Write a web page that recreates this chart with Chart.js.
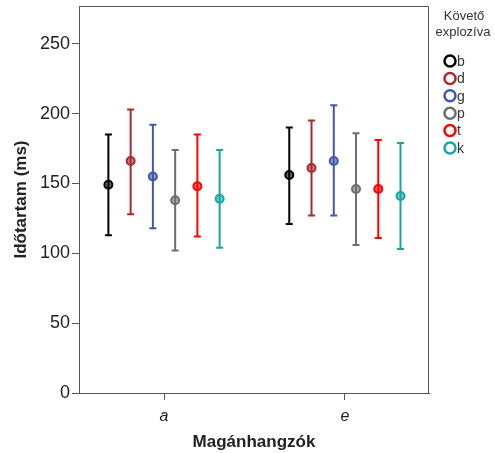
<!DOCTYPE html>
<html>
<head>
<meta charset="utf-8">
<script src="https://cdn.jsdelivr.net/npm/chart.js@4"></script>
<style>
  html, body { margin: 0; padding: 0; background: #fff; }
  #wrap { width: 495px; height: 453px; }
</style>
</head>
<body>
<div id="wrap"><canvas id="errChart" width="495" height="453"></canvas></div>
<script>
const categories = ["a", "e"];
const seriesNames = ["b", "d", "g", "p", "t", "k"];
const seriesColors = ["#000000", "#AA2A2E", "#3E58AC", "#6E6E6E", "#FF0000", "#1AA5A5"];
const yTicks = [0, 50, 100, 150, 200, 250];

// mean, lower and upper end of the error bar, one value per category (a, e)
const meanB = [149, 156], lowB = [113, 121], highB = [185, 190];
const meanD = [166, 161], lowD = [128, 127], highD = [203, 195];
const meanG = [155, 166], lowG = [118, 127], highG = [192, 206];
const meanP = [138, 146], lowP = [102, 106], highP = [174, 186];
const meanT = [148, 146], lowT = [112, 111], highT = [185, 181];
const meanK = [139, 141], lowK = [104, 103], highK = [174, 179];

const means = [meanB, meanD, meanG, meanP, meanT, meanK];
const lows = [lowB, lowD, lowG, lowP, lowT, lowK];
const highs = [highB, highD, highG, highP, highT, highK];

const FONT = "Arial, 'Liberation Sans', sans-serif";
const groupStep = 0.123;

const datasets = seriesNames.map(function (name, i) {
  return {
    label: name,
    data: categories.map(function (c, j) {
      return { x: j + (i - 2.5) * groupStep, y: means[i][j] };
    }),
    lows: lows[i],
    highs: highs[i],
    showLine: false,
    borderColor: seriesColors[i],
    backgroundColor: seriesColors[i] + "99",
    pointRadius: 4,
    pointBorderWidth: 2,
    pointHoverRadius: 4,
  };
});

// error bars drawn under the points
const errorBars = {
  id: "errorBars",
  beforeDatasetsDraw(chart) {
    const ctx = chart.ctx;
    const y = chart.scales.y;
    chart.data.datasets.forEach(function (ds, i) {
      const meta = chart.getDatasetMeta(i);
      meta.data.forEach(function (pt, j) {
        const top = y.getPixelForValue(ds.highs[j]);
        const bot = y.getPixelForValue(ds.lows[j]);
        ctx.save();
        ctx.strokeStyle = ds.borderColor;
        ctx.lineWidth = 2;
        ctx.beginPath();
        ctx.moveTo(pt.x, top);
        ctx.lineTo(pt.x, bot);
        ctx.moveTo(pt.x - 3.5, top);
        ctx.lineTo(pt.x + 3.5, top);
        ctx.moveTo(pt.x - 3.5, bot);
        ctx.lineTo(pt.x + 3.5, bot);
        ctx.stroke();
        ctx.restore();
      });
    });
  },
};

// top/right frame and the legend on the right
const frameLegend = {
  id: "frameLegend",
  afterDraw(chart) {
    const ctx = chart.ctx;
    const a = chart.chartArea;
    ctx.save();
    ctx.strokeStyle = "#555";
    ctx.lineWidth = 1;
    ctx.beginPath();
    ctx.moveTo(Math.round(a.left) + 0.5, Math.round(a.top) + 0.5);
    ctx.lineTo(Math.round(a.right) - 0.5, Math.round(a.top) + 0.5);
    ctx.lineTo(Math.round(a.right) - 0.5, Math.round(a.bottom));
    ctx.stroke();

    ctx.fillStyle = "#333";
    ctx.font = "13px " + FONT;
    ctx.textAlign = "center";
    ctx.textBaseline = "middle";
    ctx.fillText("Követő", 464, 16);
    ctx.fillText("explozíva", 463, 32);

    ctx.font = "14px " + FONT;
    ctx.textAlign = "left";
    chart.data.datasets.forEach(function (ds, i) {
      const cy = 61 + i * 17.4;
      ctx.strokeStyle = ds.borderColor;
      ctx.lineWidth = 2.5;
      ctx.beginPath();
      ctx.arc(450, cy, 5.5, 0, Math.PI * 2);
      ctx.stroke();
      ctx.fillStyle = "#333";
      ctx.fillText(ds.label, 457, cy + 1);
    });
    ctx.restore();
  },
};

new Chart(document.getElementById("errChart"), {
  type: "scatter",
  data: { datasets: datasets },
  options: {
    responsive: false,
    animation: false,
    layout: { padding: { top: 5, right: 66, left: 0, bottom: 0 } },
    plugins: {
      legend: { display: false },
      tooltip: { enabled: false },
    },
    scales: {
      x: {
        type: "linear",
        min: -0.47,
        max: 1.465,
        afterBuildTicks: function (scale) {
          scale.ticks = categories.map(function (c, j) { return { value: j }; });
        },
        afterFit: function (scale) {
          scale.height = 60;
          scale.paddingLeft = 0;
          scale.paddingRight = 0;
        },
        ticks: {
          color: "#222",
          font: { family: FONT, size: 16, style: "italic" },
          padding: 7,
          callback: function (v) { return categories[v]; },
        },
        grid: { drawOnChartArea: false, tickLength: 7, color: "#555" },
        border: { color: "#555" },
        title: {
          display: true,
          text: "Magánhangzók",
          color: "#222",
          font: { family: FONT, size: 17, weight: "bold" },
          padding: { top: 6, bottom: 0 },
        },
      },
      y: {
        min: 0,
        max: 277,
        afterBuildTicks: function (scale) {
          scale.ticks = yTicks.map(function (v) { return { value: v }; });
        },
        afterFit: function (scale) {
          scale.width = 79;
          scale.paddingTop = 0;
          scale.paddingBottom = 0;
        },
        ticks: {
          color: "#222",
          font: { family: FONT, size: 18 },
          padding: 2,
        },
        grid: { drawOnChartArea: false, tickLength: 7, color: "#555" },
        border: { color: "#555" },
        title: {
          display: true,
          text: "Időtartam (ms)",
          color: "#222",
          font: { family: FONT, size: 17, weight: "bold" },
          padding: { top: 11, bottom: 0 },
        },
      },
    },
  },
  plugins: [errorBars, frameLegend],
});
</script>
</body>
</html>
